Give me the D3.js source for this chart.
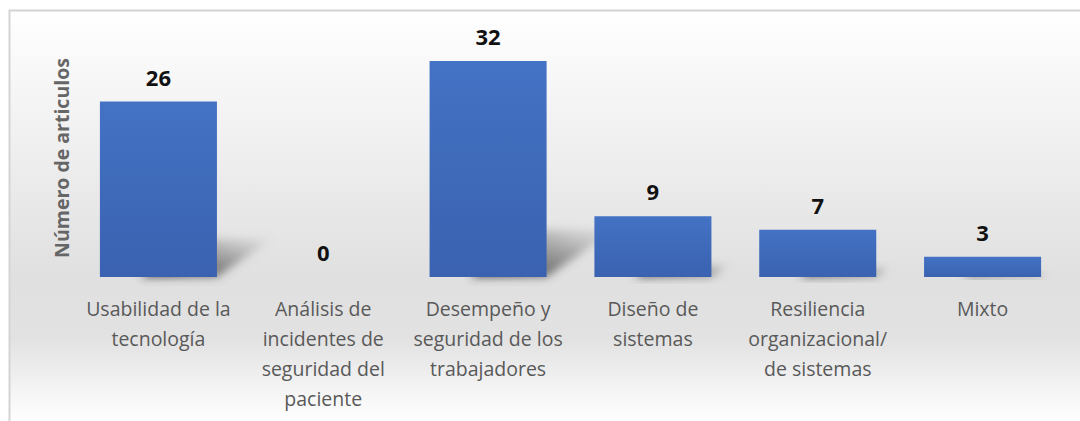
<!DOCTYPE html>
<html>
<head>
<meta charset="utf-8">
<script src="https://cdn.jsdelivr.net/npm/d3@7"></script>
<style>
  body { margin: 0; background: #fff; }
  svg { display: block; }
</style>
</head>
<body>
<div id="chart"></div>
<script>
const width = 1080;
const height = 421;

// data
const categories = [
  ["Usabilidad de la", "tecnología"],
  ["Análisis de", "incidentes de", "seguridad del", "paciente"],
  ["Desempeño y", "seguridad de los", "trabajadores"],
  ["Diseño de", "sistemas"],
  ["Resiliencia", "organizacional/", "de sistemas"],
  ["Mixto"]
];
const values = [26, 0, 32, 9, 7, 3];
const yTitle = "Número de articulos";

const margin = {top: 61, bottom: 144, left: 76, right: 15};
const baseY = height - margin.bottom;

const svg = d3.select("#chart")
  .append("svg")
  .attr("width", width)
  .attr("height", height);

const defs = svg.append("defs");

// background gradient
const bg = defs.append("linearGradient")
  .attr("id", "bg").attr("x1", 0).attr("x2", 0).attr("y1", 0).attr("y2", 1);
bg.append("stop").attr("offset", "0%").attr("stop-color", "#ffffff");
bg.append("stop").attr("offset", "65%").attr("stop-color", "#e0e0e0");
bg.append("stop").attr("offset", "80%").attr("stop-color", "#e2e2e2");
bg.append("stop").attr("offset", "100%").attr("stop-color", "#ffffff");

const barGrad = defs.append("linearGradient")
  .attr("id", "barGrad").attr("x1", 0).attr("x2", 0).attr("y1", 0).attr("y2", 1);
barGrad.append("stop").attr("offset", "0%").attr("stop-color", "#4472c4");
barGrad.append("stop").attr("offset", "100%").attr("stop-color", "#3a62b0");

const blur = defs.append("filter").attr("id", "blur")
  .attr("x", "-50%").attr("y", "-50%").attr("width", "200%").attr("height", "200%");
blur.append("feGaussianBlur").attr("stdDeviation", 4);

const shadowGrad = defs.append("linearGradient")
  .attr("id", "shadowGrad").attr("x1", 0).attr("x2", 1).attr("y1", 1).attr("y2", 0);
shadowGrad.append("stop").attr("offset", "0%").attr("stop-color", "#333").attr("stop-opacity", 1);
shadowGrad.append("stop").attr("offset", "60%").attr("stop-color", "#666").attr("stop-opacity", 0.5);
shadowGrad.append("stop").attr("offset", "100%").attr("stop-color", "#999").attr("stop-opacity", 0.05);

svg.append("rect")
  .attr("x", 9).attr("y", 10)
  .attr("width", width - 9).attr("height", height - 10)
  .attr("fill", "url(#bg)");
svg.append("path")
  .attr("d", `M9.5,${height} V10.5 H${width}`)
  .attr("fill", "none")
  .attr("stroke", "#d4d4d4")
  .attr("stroke-width", 2);

// scales
const x = d3.scaleBand()
  .domain(d3.range(values.length))
  .range([margin.left, width - margin.right])
  .paddingInner(0.29)
  .paddingOuter(0.145);

const y = d3.scaleLinear()
  .domain([0, 32])
  .range([baseY, margin.top]);

// shadows
svg.append("g")
  .selectAll("path")
  .data(values.map((v, i) => ({v, i})).filter(d => d.v > 0))
  .join("path")
    .attr("filter", "url(#blur)")
    .attr("fill", "url(#shadowGrad)")
    .attr("d", d => {
      const x0 = x(d.i), x1 = x0 + x.bandwidth();
      const h = baseY - y(d.v);
      const dx = h * 0.32, dy = h * 0.22;
      return `M${x0 + 40},${baseY} L${x1},${baseY} L${x1 + dx},${baseY - dy} L${x0 + 40 + dx},${baseY - dy} Z`;
    });

// bars
svg.append("g")
  .selectAll("rect")
  .data(values)
  .join("rect")
    .attr("x", (d, i) => x(i))
    .attr("y", d => y(d))
    .attr("width", x.bandwidth())
    .attr("height", d => baseY - y(d))
    .attr("fill", "url(#barGrad)");

// value labels
svg.append("g")
  .selectAll("text")
  .data(values)
  .join("text")
    .attr("x", (d, i) => x(i) + x.bandwidth() / 2)
    .attr("y", d => y(d) - 16)
    .attr("text-anchor", "middle")
    .attr("font-family", "'Open Sans', sans-serif")
    .attr("font-weight", "bold")
    .attr("font-size", 22)
    .attr("fill", "#111")
    .text(d => d);

// category labels
const labels = svg.append("g")
  .selectAll("text")
  .data(categories)
  .join("text")
    .attr("x", (d, i) => x(i) + x.bandwidth() / 2)
    .attr("y", baseY + 39)
    .attr("text-anchor", "middle")
    .attr("font-family", "'Open Sans', sans-serif")
    .attr("font-size", 19.5)
    .attr("fill", "#595959");

labels.selectAll("tspan")
  .data(d => d)
  .join("tspan")
    .attr("x", function() { return this.parentNode.getAttribute("x"); })
    .attr("dy", (d, i) => i === 0 ? 0 : 30)
    .text(d => d);

// y title
svg.append("text")
  .attr("transform", `translate(69, 158) rotate(-90)`)
  .attr("text-anchor", "middle")
  .attr("font-family", "'Open Sans', sans-serif")
  .attr("font-weight", "bold")
  .attr("font-size", 19.5)
  .attr("fill", "#666")
  .text(yTitle);
</script>
</body>
</html>
